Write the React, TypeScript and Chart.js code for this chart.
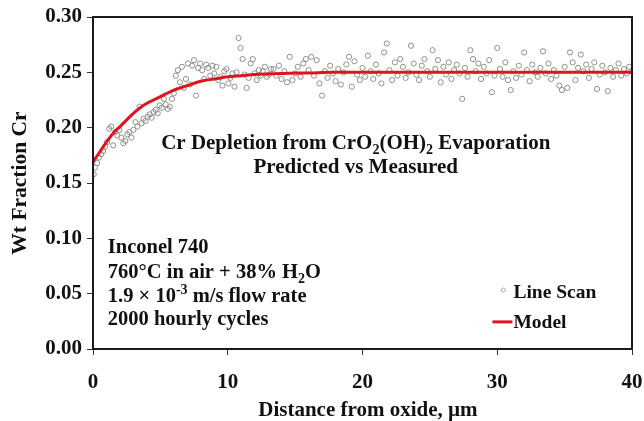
import React, { useEffect, useRef } from "react";
import { Chart, registerables } from "chart.js";

Chart.register(...registerables);

// ---------- DATA ----------
const lineScan: [number, number][] = [
  [0.05, 0.158], [0.15, 0.164], [0.3, 0.168], [0.45, 0.173], [0.6, 0.176], [0.75, 0.179],
  [0.9, 0.183], [1.05, 0.187], [1.2, 0.199], [1.35, 0.201], [1.5, 0.184], [1.65, 0.196],
  [1.8, 0.193], [1.95, 0.198], [2.1, 0.191], [2.25, 0.186], [2.4, 0.188], [2.55, 0.194],
  [2.7, 0.196], [2.85, 0.191], [3.0, 0.198], [3.15, 0.205], [3.3, 0.201], [3.45, 0.219],
  [3.6, 0.204], [3.75, 0.208], [3.9, 0.206], [4.05, 0.21], [4.2, 0.212], [4.35, 0.209],
  [4.5, 0.214], [4.65, 0.216], [4.8, 0.213], [4.95, 0.22], [5.1, 0.218], [5.25, 0.226],
  [5.4, 0.221], [5.55, 0.217], [5.7, 0.219], [5.85, 0.226], [6.0, 0.231], [6.15, 0.247],
  [6.3, 0.252], [6.45, 0.241], [6.6, 0.255], [6.75, 0.236], [6.9, 0.244], [7.05, 0.258],
  [7.2, 0.239], [7.35, 0.256], [7.5, 0.261], [7.65, 0.229], [7.8, 0.254], [7.95, 0.258],
  [8.1, 0.252], [8.25, 0.244], [8.4, 0.257], [8.55, 0.254], [8.7, 0.247], [8.85, 0.256],
  [9.0, 0.249], [9.15, 0.255], [9.3, 0.243], [9.45, 0.246], [9.6, 0.238], [9.75, 0.251],
  [9.9, 0.253], [10.05, 0.24], [10.2, 0.245], [10.35, 0.249], [10.5, 0.237], [10.65, 0.25],
  [10.8, 0.281], [10.95, 0.272], [11.1, 0.262], [11.25, 0.248], [11.4, 0.236], [11.55, 0.245],
  [11.7, 0.258], [11.85, 0.262], [12.0, 0.249], [12.15, 0.243], [12.3, 0.252], [12.45, 0.247],
  [12.6, 0.251], [12.75, 0.255], [12.9, 0.246], [13.05, 0.248], [13.2, 0.253],
  [13.4, 0.253], [13.6, 0.247], [13.8, 0.256], [14.0, 0.244], [14.2, 0.251], [14.4, 0.241],
  [14.6, 0.264], [14.8, 0.243], [15.0, 0.249], [15.2, 0.255], [15.4, 0.246], [15.6, 0.258],
  [15.8, 0.262], [16.0, 0.252], [16.2, 0.264], [16.4, 0.247], [16.6, 0.261], [16.8, 0.24],
  [17.0, 0.229], [17.2, 0.251], [17.4, 0.245], [17.6, 0.256], [17.8, 0.249], [18.0, 0.242],
  [18.2, 0.253], [18.4, 0.239], [18.6, 0.25], [18.8, 0.257], [19.0, 0.264], [19.2, 0.237],
  [19.4, 0.26], [19.6, 0.248], [19.8, 0.243], [20.0, 0.254], [20.2, 0.246], [20.4, 0.265],
  [20.6, 0.251], [20.8, 0.244], [21.0, 0.257], [21.2, 0.249], [21.4, 0.24], [21.6, 0.268],
  [21.8, 0.276], [22.0, 0.252], [22.2, 0.243], [22.4, 0.259], [22.6, 0.247], [22.8, 0.262],
  [23.0, 0.255], [23.2, 0.245], [23.4, 0.25], [23.6, 0.274], [23.8, 0.258], [24.0, 0.248],
  [24.2, 0.243], [24.4, 0.256], [24.6, 0.262], [24.8, 0.251], [25.0, 0.246], [25.2, 0.27],
  [25.4, 0.253], [25.6, 0.261], [25.8, 0.241], [26.0, 0.255], [26.2, 0.248], [26.4, 0.259],
  [26.6, 0.244], [26.8, 0.252], [27.0, 0.257], [27.2, 0.249], [27.4, 0.226], [27.6, 0.254],
  [27.8, 0.246], [28.0, 0.27], [28.2, 0.262], [28.4, 0.251], [28.6, 0.258], [28.8, 0.244],
  [29.0, 0.255], [29.2, 0.249], [29.4, 0.261], [29.6, 0.232], [29.8, 0.247], [30.0, 0.272],
  [30.2, 0.253], [30.4, 0.246], [30.6, 0.259], [30.8, 0.243], [31.0, 0.234], [31.2, 0.251],
  [31.4, 0.245], [31.6, 0.256], [31.8, 0.248], [32.0, 0.268], [32.2, 0.252], [32.4, 0.242],
  [32.6, 0.257], [32.8, 0.25], [33.0, 0.246], [33.2, 0.254], [33.4, 0.269], [33.6, 0.249],
  [33.8, 0.258], [34.0, 0.244], [34.2, 0.252], [34.4, 0.247], [34.6, 0.238], [34.8, 0.234],
  [35.0, 0.255], [35.2, 0.236], [35.4, 0.268], [35.6, 0.259], [35.8, 0.243], [36.0, 0.254],
  [36.2, 0.266], [36.4, 0.251], [36.6, 0.257], [36.8, 0.245], [37.0, 0.253], [37.2, 0.259],
  [37.4, 0.235], [37.6, 0.248], [37.8, 0.256], [38.0, 0.25], [38.2, 0.233], [38.4, 0.254],
  [38.6, 0.246], [38.8, 0.252], [39.0, 0.258], [39.2, 0.247], [39.4, 0.253], [39.6, 0.249],
  [39.8, 0.255], [40.0, 0.251],
];

const modelX = [0, 0.5, 1, 1.5, 2, 2.5, 3, 3.5, 4, 5, 6, 7, 8, 9, 10, 11, 12, 14, 16, 18, 20, 25, 30, 35, 40];
const modelY = [0.169, 0.178, 0.187, 0.195, 0.201, 0.207, 0.213, 0.218, 0.222, 0.228, 0.234, 0.238, 0.242, 0.244, 0.246, 0.247, 0.248, 0.249, 0.2495, 0.25, 0.25, 0.25, 0.25, 0.25, 0.25];

const xTicks = [0, 10, 20, 30, 40];
const yTicks = [0, 0.05, 0.1, 0.15, 0.2, 0.25, 0.3];

const xTitle = "Distance from oxide, µm";
const yTitle = "Wt Fraction Cr";
const seriesNames = ["Line Scan", "Model"];

type Seg = { t: string; s?: "sub" | "sup" };
const titleLines: Seg[][] = [
  [{ t: "Cr Depletion from CrO" }, { t: "2", s: "sub" }, { t: "(OH)" }, { t: "2", s: "sub" }, { t: " Evaporation" }],
  [{ t: "Predicted vs Measured" }],
];
const noteLines: Seg[][] = [
  [{ t: "Inconel 740" }],
  [{ t: "760°C in air + 38% H" }, { t: "2", s: "sub" }, { t: "O" }],
  [{ t: "1.9 × 10" }, { t: "-3", s: "sup" }, { t: " m/s flow rate" }],
  [{ t: "2000 hourly cycles" }],
];

// ---------- STYLE ----------
const FAM = '"Liberation Serif", "Times New Roman", serif';
const INK = "#111111";
const RED = "#e0141e";
const PT = "#8f8f8f";

function drawRich(ctx: CanvasRenderingContext2D, segs: Seg[], x: number, yMid: number, size: number, align: "left" | "center") {
  const fontFor = (s?: string) => `bold ${s ? Math.round(size * 0.66) : size}px ${FAM}`;
  let total = 0;
  for (const g of segs) {
    ctx.font = fontFor(g.s);
    total += ctx.measureText(g.t).width;
  }
  let cx = align === "center" ? x - total / 2 : x;
  const base = yMid + size * 0.33;
  ctx.textAlign = "left";
  ctx.textBaseline = "alphabetic";
  ctx.fillStyle = INK;
  for (const g of segs) {
    ctx.font = fontFor(g.s);
    const dy = g.s === "sub" ? size * 0.22 : g.s === "sup" ? -size * 0.38 : 0;
    ctx.fillText(g.t, cx, base + dy);
    cx += ctx.measureText(g.t).width;
  }
}

const overlay = {
  id: "overlay",
  afterDatasetsDraw(chart: any) {
    const { ctx, chartArea: a, scales } = chart;
    const xs = scales.x;
    const ys = scales.y;
    ctx.save();
    // frame
    ctx.strokeStyle = "#1a1a1a";
    ctx.lineWidth = 2;
    ctx.strokeRect(a.left, a.top, a.right - a.left, a.bottom - a.top);

    // title
    const tx = xs.getPixelForValue(19.5);
    drawRich(ctx, titleLines[0], tx, ys.getPixelForValue(0.187), 21, "center");
    drawRich(ctx, titleLines[1], tx, ys.getPixelForValue(0.1655), 21, "center");

    // notes
    const nx = xs.getPixelForValue(1.1);
    const ny = [0.0925, 0.07, 0.0485, 0.0278];
    noteLines.forEach((l, i) => drawRich(ctx, l, nx, ys.getPixelForValue(ny[i]), 20.5, "left"));

    // x-axis title (slightly right of centre, as in the source)
    drawRich(ctx, [{ t: xTitle }], xs.getPixelForValue(20.4), 409, 21, "center");

    // legend
    const lx = xs.getPixelForValue(31.2);
    const ly1 = ys.getPixelForValue(0.0515);
    const ly2 = ys.getPixelForValue(0.0245);
    const d0 = chart.data.datasets[0];
    const d1 = chart.data.datasets[1];
    ctx.beginPath();
    ctx.strokeStyle = "#aaaaaa";
    ctx.lineWidth = 1;
    ctx.arc(lx - 10, ly1 - 2, 2, 0, Math.PI * 2);
    ctx.stroke();
    ctx.beginPath();
    ctx.strokeStyle = d1.borderColor;
    ctx.lineWidth = 3;
    ctx.moveTo(lx - 21, ly2);
    ctx.lineTo(lx - 1, ly2);
    ctx.stroke();
    drawRich(ctx, [{ t: d0.label }], lx, ly1, 19.5, "left");
    drawRich(ctx, [{ t: d1.label }], lx, ly2, 19.5, "left");
    ctx.restore();
  },
};

export default function App() {
  const ref = useRef<HTMLCanvasElement | null>(null);

  useEffect(() => {
    if (!ref.current) return;
    const tickFont = { family: FAM, size: 21, weight: "bold" as const };
    const titleFont = { family: FAM, size: 21.5, weight: "bold" as const };
    const chart = new Chart(ref.current, {
      type: "scatter",
      data: {
        datasets: [
          {
            label: seriesNames[0],
            data: lineScan.map(([x, y]) => ({ x, y })),
            pointStyle: "circle",
            pointRadius: 2.6,
            pointBorderWidth: 1,
            pointBorderColor: PT,
            pointBackgroundColor: "rgba(255,255,255,0)",
            showLine: false,
            order: 2,
          },
          {
            label: seriesNames[1],
            data: modelX.map((x, i) => ({ x, y: modelY[i] })),
            showLine: true,
            borderColor: RED,
            borderWidth: 3,
            pointRadius: 0,
            cubicInterpolationMode: "monotone",
            fill: false,
            order: 1,
          },
        ],
      },
      options: {
        animation: false,
        responsive: false,
        layout: { padding: { left: 8, right: 12, top: 17, bottom: 0 } },
        plugins: { legend: { display: false }, tooltip: { enabled: false } },
        scales: {
          x: {
            type: "linear",
            min: 0,
            max: 40,
            afterBuildTicks: (s: any) => {
              s.ticks = xTicks.map((v) => ({ value: v }));
            },
            afterFit: (s: any) => {
              s.height = 72;
              s.paddingLeft = 0;
              s.paddingRight = 0;
            },
            grid: { drawOnChartArea: false, drawTicks: true, tickLength: 6, color: "#333", lineWidth: 1 },
            border: { display: false },
            ticks: { font: tickFont, color: INK, padding: 15, maxRotation: 0, callback: (v: any) => String(v) },
            title: { display: false, text: xTitle },
          },
          y: {
            type: "linear",
            min: 0,
            max: 0.3,
            afterBuildTicks: (s: any) => {
              s.ticks = yTicks.map((v) => ({ value: v }));
            },
            afterFit: (s: any) => {
              s.width = 85;
              s.paddingTop = 0;
              s.paddingBottom = 0;
            },
            grid: { drawOnChartArea: false, drawTicks: true, tickLength: 6, color: "#333", lineWidth: 1 },
            border: { display: false },
            ticks: { font: tickFont, color: INK, padding: 5, callback: (v: any) => Number(v).toFixed(2) },
            title: { display: true, text: yTitle, font: titleFont, color: INK, padding: { top: 0, bottom: 0 } },
          },
        },
      },
      plugins: [overlay],
    });
    return () => chart.destroy();
  }, []);

  return (
    <div style={{ position: "absolute", left: 0, top: 0, width: 644, height: 421, background: "#fff" }}>
      <canvas ref={ref} width={644} height={421} style={{ display: "block", width: 644, height: 421 }} />
    </div>
  );
}
